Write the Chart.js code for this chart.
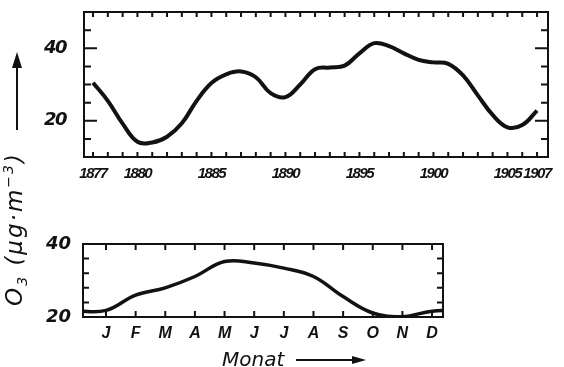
<!DOCTYPE html>
<html>
<head>
<meta charset="utf-8">
<script src="https://cdn.jsdelivr.net/npm/chart.js@4/dist/chart.umd.min.js"></script>
<style>
  html, body { margin: 0; padding: 0; background: #fff; }
  #wrap { position: relative; width: 564px; height: 367px; overflow: hidden; background: #fff; }
  #c1 { position: absolute; left: 0; top: 0; }
  #c2 { position: absolute; left: 0; top: 230px; }
  .ytitle { position: absolute; left: 15px; top: 229px; transform: translate(-50%, -50%) rotate(-90deg);
            font: italic 23px 'DejaVu Sans', sans-serif; color: #111; white-space: nowrap; letter-spacing: 2px; }
  .xtitle { position: absolute; left: 222px; top: 347px; font: italic 20px 'DejaVu Sans', sans-serif; color: #111; white-space: nowrap; }
  .vline { position: absolute; left: 16px; top: 66px; width: 2px; height: 64px; background: #111; }
  .vhead { position: absolute; left: 12px; top: 52px; width: 0; height: 0; border-left: 5px solid transparent; border-right: 5px solid transparent; border-bottom: 16px solid #111; }
  .hline { position: absolute; left: 296px; top: 359px; width: 58px; height: 2px; background: #111; }
  .hhead { position: absolute; left: 352px; top: 356px; width: 0; height: 0; border-top: 4px solid transparent; border-bottom: 4px solid transparent; border-left: 14px solid #111; }
</style>
</head>
<body>
<div id="wrap">
  <canvas id="c1" width="564" height="185"></canvas>
  <canvas id="c2" width="564" height="137"></canvas>
  <div class="vhead"></div><div class="vline"></div>
  <div class="ytitle">O<sub style="font-size:14px">3</sub> (μg·m<sup style="font-size:14px">−3</sup>)</div>
  <div class="xtitle">Monat</div>
  <div class="hline"></div><div class="hhead"></div>
</div>
<script>
// ---- data ----
const years = [1877,1878,1879,1880,1881,1882,1883,1884,1885,1886,1887,1888,1889,1890,1891,1892,1893,1894,1895,1896,1897,1898,1899,1900,1901,1902,1903,1904,1905,1906,1907];
const ozoneYearly = [30.5,25.5,19.2,14.2,14.0,15.6,19.3,25.5,30.4,32.8,33.6,32.0,27.6,26.5,30.0,34.2,34.7,35.2,38.6,41.4,40.6,38.6,36.8,36.1,35.7,32.5,27.0,21.6,18.2,18.8,22.8];
const yearTickLabels = [1877,1880,1885,1890,1895,1900,1905,1907];
const topYTickLabels = [20,40];

const months = ['J','F','M','A','M','J','J','A','S','O','N','D'];
const ozoneMonthly = [21.8,26.0,28.0,31.1,35.2,34.8,33.4,31.1,25.6,21.1,20.1,21.6];
const bottomYTickLabels = [20,40];

// ---- helpers ----
const INK = '#121212';

const frameTicks = {
  id: 'frameTicks',
  beforeDraw(chart, args, o) {
    if (o.letterSpacing && 'letterSpacing' in chart.ctx) chart.ctx.letterSpacing = o.letterSpacing;
  },
  afterDraw(chart, args, o) {
    const {ctx, chartArea: {left, right, top, bottom}, scales: {x, y}} = chart;
    ctx.save();
    ctx.strokeStyle = INK;
    ctx.lineWidth = 2;
    ctx.lineCap = 'butt';
    ctx.strokeRect(left, top, right - left, bottom - top);
    ctx.beginPath();
    for (let v = Math.ceil(x.min); v <= x.max; v += o.xStep) {
      const px = x.getPixelForValue(v);
      ctx.moveTo(px, bottom); ctx.lineTo(px, bottom - o.xLen);
      ctx.moveTo(px, top); ctx.lineTo(px, top + o.xLen);
    }
    for (let v = Math.ceil(y.min / o.yStep) * o.yStep; v <= y.max; v += o.yStep) {
      if (v <= y.min || v >= y.max) continue;
      const py = y.getPixelForValue(v);
      const len = o.yMajor.includes(v) ? o.yMajorLen : o.yLen;
      ctx.moveTo(left, py); ctx.lineTo(left + len, py);
      ctx.moveTo(right, py); ctx.lineTo(right - len, py);
    }
    ctx.stroke();
    ctx.restore();
  }
};

const noPad = s => { s.paddingTop = 0; s.paddingBottom = 0; s.paddingLeft = 0; s.paddingRight = 0; };

const xFont = {family: "'Liberation Sans', sans-serif", size: 15, style: 'italic', weight: 'bold'};
const yFont = {family: "'DejaVu Sans', sans-serif", size: 18, style: 'italic', weight: 'bold'};
const mFont = {family: "'Liberation Sans', sans-serif", size: 16, style: 'italic', weight: 'bold'};

// ---- top chart ----
new Chart(document.getElementById('c1'), {
  type: 'line',
  data: {
    datasets: [{
      data: years.map((yr, i) => ({x: yr, y: ozoneYearly[i]})),
      borderColor: INK, borderWidth: 4, pointRadius: 0,
      tension: 0.4, fill: false
    }]
  },
  options: {
    responsive: false, animation: false, events: [],
    layout: {padding: {left: 0, right: 16, top: 12, bottom: 0}},
    plugins: {legend: {display: false}, tooltip: {enabled: false},
      frameTicks: {xStep: 1, xLen: 5, yStep: 5, yLen: 7, yMajor: [20, 40], yMajorLen: 13, letterSpacing: '-1.5px'}},
    scales: {
      x: {
        type: 'linear', min: 1876.39, max: 1907.74,
        afterBuildTicks: s => { s.ticks = yearTickLabels.map(v => ({value: v})); },
        afterFit: s => { s.height = 28; noPad(s); },
        grid: {display: false, drawTicks: false}, border: {display: false},
        ticks: {color: INK, font: xFont, padding: 8, maxRotation: 0, autoSkip: false, callback: v => String(v)}
      },
      y: {
        min: 10, max: 50,
        afterBuildTicks: s => { s.ticks = topYTickLabels.map(v => ({value: v})); },
        afterFit: s => { s.width = 84; noPad(s); },
        grid: {display: false, drawTicks: false}, border: {display: false},
        ticks: {color: INK, font: yFont, padding: 18, callback: v => String(v)}
      }
    }
  },
  plugins: [frameTicks]
});

// ---- bottom chart ----
const monthData = months.map((m, i) => ({x: i, y: ozoneMonthly[i]}));
// annual cycle: December of the previous year and January of the next year
monthData.unshift({x: -1, y: ozoneMonthly[11]});
monthData.push({x: 12, y: ozoneMonthly[0]});

new Chart(document.getElementById('c2'), {
  type: 'line',
  data: {
    datasets: [{
      data: monthData,
      borderColor: INK, borderWidth: 3.5, pointRadius: 0,
      tension: 0.4, fill: false
    }]
  },
  options: {
    responsive: false, animation: false, events: [],
    layout: {padding: {left: 0, right: 121, top: 14, bottom: 0}},
    plugins: {legend: {display: false}, tooltip: {enabled: false},
      frameTicks: {xStep: 1, xLen: 6, yStep: 4, yLen: 6, yMajor: [], yMajorLen: 6}},
    scales: {
      x: {
        type: 'linear', min: -0.776, max: 11.37,
        afterBuildTicks: s => { s.ticks = months.map((m, i) => ({value: i})); },
        afterFit: s => { s.height = 50; noPad(s); },
        grid: {display: false, drawTicks: false}, border: {display: false},
        ticks: {color: INK, font: mFont, padding: 7, maxRotation: 0, autoSkip: false, callback: v => months[v]}
      },
      y: {
        min: 20, max: 40,
        afterBuildTicks: s => { s.ticks = bottomYTickLabels.map(v => ({value: v})); },
        afterFit: s => { s.width = 83; noPad(s); },
        grid: {display: false, drawTicks: false}, border: {display: false},
        ticks: {color: INK, font: yFont, padding: 12, callback: v => String(v)}
      }
    }
  },
  plugins: [frameTicks]
});
</script>
</body>
</html>
